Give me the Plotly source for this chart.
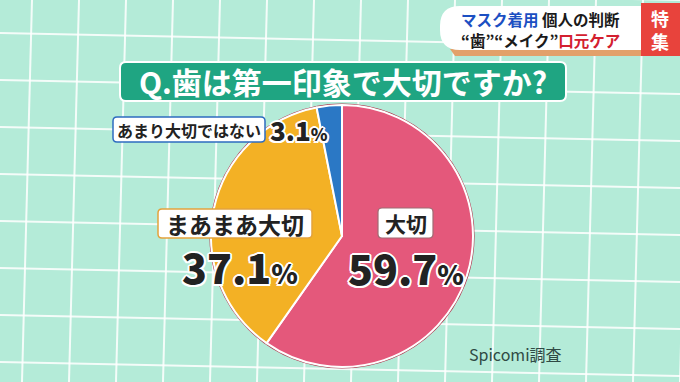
import plotly.graph_objects as go

# ---- data ----
categories = ["大切", "まあまあ大切", "あまり大切ではない"]
values = [59.7, 37.1, 3.1]
slice_colors = ["#E4587B", "#F3B125", "#2B78C5"]
title_text = "Q.歯は第一印象で大切ですか?"
source_text = "Spicomi調査"

W, H = 680, 382
BG = "#B4EBD8"
JP = "Noto Sans CJK JP"


def rrect(x0, y0, x1, y1, r):
    return (f"M{x0+r},{y0} L{x1-r},{y0} Q{x1},{y0} {x1},{y0+r} L{x1},{y1-r} "
            f"Q{x1},{y1} {x1-r},{y1} L{x0+r},{y1} Q{x0},{y1} {x0},{y1-r} "
            f"L{x0},{y0+r} Q{x0},{y0} {x0+r},{y0} Z")


fig = go.Figure()

cx, cy, rad = 342, 236, 131
fig.add_trace(go.Pie(
    labels=categories, values=values, sort=False, direction="clockwise",
    rotation=0, textinfo="none", hoverinfo="skip", showlegend=False,
    marker=dict(colors=slice_colors, line=dict(color="white", width=2)),
    domain=dict(x=[(cx - rad) / W, (cx + rad) / W],
                y=[1 - (cy + rad) / H, 1 - (cy - rad) / H]),
))

shapes = []
# background grid
for k in range(-1, 16):
    x = 32 + 47 * k
    shapes.append(dict(type="line", x0=x, y0=0, x1=x - 10, y1=H,
                       line=dict(color="rgba(255,255,255,0.85)", width=2), layer="below"))
for k in range(-1, 10):
    y = 33 + 47 * k
    shapes.append(dict(type="line", x0=0, y0=y, x1=W, y1=y + 14,
                       line=dict(color="rgba(255,255,255,0.85)", width=2), layer="below"))

# outer pie ring outline
shapes.append(dict(type="circle", x0=cx - rad - 1, y0=cy - rad - 1, x1=cx + rad + 1, y1=cy + rad + 1,
                   line=dict(color="#B0384F", width=1.2), fillcolor="rgba(0,0,0,0)", layer="below"))

# header banner
shapes.append(dict(type="path", path="M450,49 L680,49 L680,56 L455,56 Z",
                   fillcolor="#E2A16A", line=dict(width=0), layer="below"))
shapes.append(dict(type="path", path=rrect(440, 6, 700, 50, 20),
                   fillcolor="white", line=dict(width=0), layer="below"))
shapes.append(dict(type="rect", x0=641, y0=3, x1=680, y1=56,
                   fillcolor="#E8433C", line=dict(width=0), layer="below"))

# title box
shapes.append(dict(type="path", path=rrect(120, 62, 566, 101, 6),
                   fillcolor="#1FA582", line=dict(color="white", width=2), layer="below"))

# label boxes (above pie)
shapes.append(dict(type="path", path=rrect(113, 117, 265, 142, 4),
                   fillcolor="white", line=dict(color="#2E6CC0", width=1.5), layer="above"))
shapes.append(dict(type="path", path=rrect(158, 209, 312, 238, 4),
                   fillcolor="white", line=dict(color="#E3A23C", width=1.5), layer="above"))
shapes.append(dict(type="path", path=rrect(378, 208, 433, 238, 4),
                   fillcolor="white", line=dict(color="#9E6B73", width=1.2), layer="above"))

fig.update_layout(shapes=shapes)

stroke = ("2px 0 0 white, -2px 0 0 white, 0 2px 0 white, 0 -2px 0 white, "
          "1.5px 1.5px 0 white, -1.5px -1.5px 0 white, 1.5px -1.5px 0 white, -1.5px 1.5px 0 white")


def pct(v, small):
    return f"{v}<span style='font-size:{small}px'>%</span>"


ann = []
# header text
ann.append(dict(x=459, y=19, xanchor="left", yanchor="middle", showarrow=False,
                text="<span style='color:#1B4FC2'>マスク着用</span> 個人の判断",
                font=dict(family=JP, size=15.5, color="#1A1A1A", weight="bold")))
ann.append(dict(x=459, y=40, xanchor="left", yanchor="middle", showarrow=False,
                text="“歯”“メイク”<span style='color:#D3202F'>口元ケア</span>",
                font=dict(family=JP, size=15.5, color="#1A1A1A", weight="bold")))
ann.append(dict(x=660, y=29.5, showarrow=False, text="特<br>集",
                font=dict(family=JP, size=18, color="white", weight="bold")))

# title
ann.append(dict(x=343, y=81, showarrow=False, text=title_text,
                font=dict(family=JP, size=30, color="white", weight="bold")))

# slice labels
ann.append(dict(x=189, y=129.5, showarrow=False, text=categories[2],
                font=dict(family=JP, size=16, color="#222222", weight="bold")))
ann.append(dict(x=299, y=129, showarrow=False, text=pct(values[2], 17),
                font=dict(family=JP, size=26, color="#222222", weight=900, shadow=stroke)))
ann.append(dict(x=235, y=223.5, showarrow=False, text=categories[1],
                font=dict(family=JP, size=23, color="#222222", weight="bold")))
ann.append(dict(x=240, y=266, showarrow=False, text=pct(values[1], 27),
                font=dict(family=JP, size=41, color="#222222", weight=900, shadow=stroke)))
ann.append(dict(x=405.5, y=223, showarrow=False, text=categories[0],
                font=dict(family=JP, size=21, color="#222222", weight="bold")))
ann.append(dict(x=406, y=267, showarrow=False, text=pct(values[0], 27),
                font=dict(family=JP, size=41, color="#222222", weight=900, shadow=stroke)))

# source
ann.append(dict(x=467, y=354, xanchor="left", showarrow=False, text=source_text,
                font=dict(family=JP, size=16, color="#2F4A44")))

for a in ann:
    a["xref"] = "x"
    a["yref"] = "y"

fig.update_layout(
    annotations=ann,
    width=W, height=H,
    margin=dict(l=0, r=0, t=0, b=0),
    paper_bgcolor=BG, plot_bgcolor=BG,
    xaxis=dict(range=[0, W], visible=False, fixedrange=True),
    yaxis=dict(range=[H, 0], visible=False, fixedrange=True),
    showlegend=False,
)

fig.write_html("out.html", config={"displayModeBar": False, "staticPlot": True},
               post_script="document.body.style.margin='0';document.body.style.overflow='hidden';")
